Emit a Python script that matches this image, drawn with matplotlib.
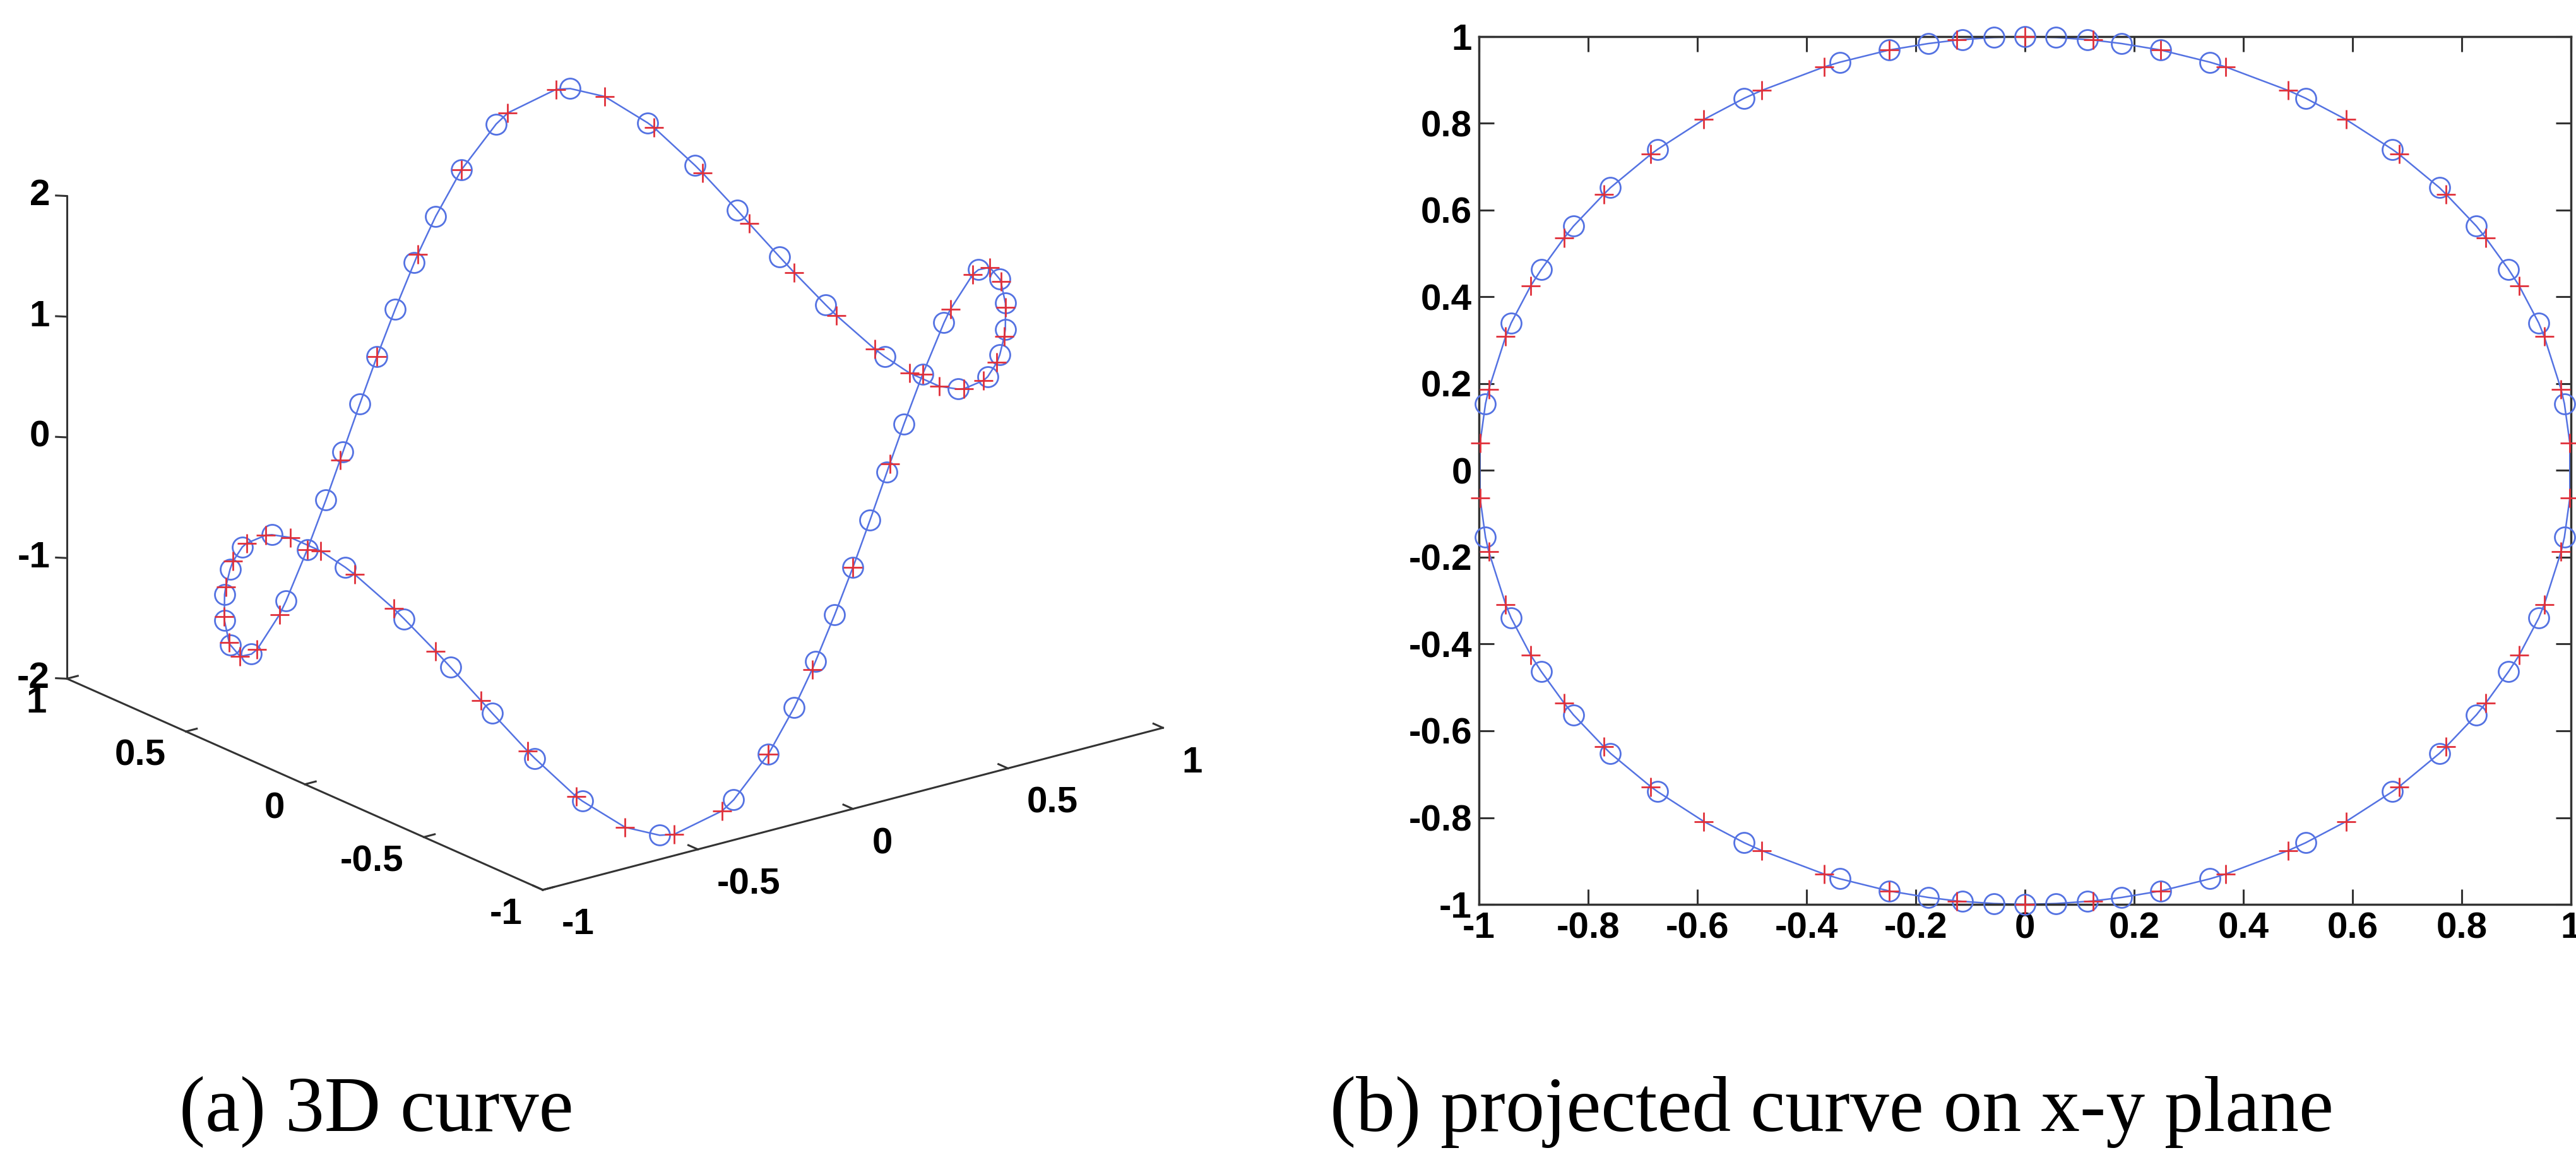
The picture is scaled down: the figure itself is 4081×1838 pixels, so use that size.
import numpy as np
import matplotlib
matplotlib.use("Agg")
import matplotlib.pyplot as plt

# circles: samples spaced evenly along the 3D curve
circ_x = [0.988, 0.941, 0.886, 0.827, 0.759, 0.673, 0.514, 0.339, 0.249, 0.177, 0.115, 0.057, 0.000,
          -0.057, -0.115, -0.177, -0.249, -0.339, -0.514, -0.673, -0.759, -0.827, -0.886, -0.941, -0.988,
          -0.988, -0.941, -0.886, -0.827, -0.759, -0.673, -0.514, -0.339, -0.249, -0.177, -0.115, -0.057, 0.000,
          0.057, 0.115, 0.177, 0.249, 0.339, 0.514, 0.673, 0.759, 0.827, 0.886, 0.941, 0.988]
circ_y = [0.154, 0.340, 0.463, 0.563, 0.652, 0.740, 0.858, 0.941, 0.969, 0.984, 0.993, 0.998, 1.000,
          0.998, 0.993, 0.984, 0.969, 0.941, 0.858, 0.740, 0.652, 0.563, 0.463, 0.340, 0.154,
          -0.154, -0.340, -0.463, -0.563, -0.652, -0.740, -0.858, -0.941, -0.969, -0.984, -0.993, -0.998, -1.000,
          -0.998, -0.993, -0.984, -0.969, -0.941, -0.858, -0.740, -0.652, -0.563, -0.463, -0.340, -0.154]
circ_z = [0.075, 0.371, 0.700, 1.036, 1.376, 1.711, 1.998, 1.749, 1.408, 1.056, 0.706, 0.354, 0.000,
          -0.354, -0.706, -1.056, -1.408, -1.749, -1.998, -1.711, -1.376, -1.036, -0.700, -0.371, -0.075,
          -0.075, -0.371, -0.700, -1.036, -1.376, -1.711, -1.998, -1.749, -1.408, -1.056, -0.706, -0.354, 0.000,
          0.354, 0.706, 1.056, 1.408, 1.749, 1.998, 1.711, 1.376, 1.036, 0.700, 0.371, 0.075]

# pluses: samples spaced evenly in the curve parameter
plus_x = [0.998, 0.982, 0.951, 0.905, 0.844, 0.771, 0.685, 0.588, 0.482, 0.368, 0.249, 0.125, 0.000,
          -0.125, -0.249, -0.368, -0.482, -0.588, -0.685, -0.771, -0.844, -0.905, -0.951, -0.982, -0.998,
          -0.998, -0.982, -0.951, -0.905, -0.844, -0.771, -0.685, -0.588, -0.482, -0.368, -0.249, -0.125, 0.000,
          0.125, 0.249, 0.368, 0.482, 0.588, 0.685, 0.771, 0.844, 0.905, 0.951, 0.982, 0.998]
plus_y = [0.063, 0.187, 0.309, 0.426, 0.536, 0.637, 0.729, 0.809, 0.876, 0.930, 0.969, 0.992, 1.000,
          0.992, 0.969, 0.930, 0.876, 0.809, 0.729, 0.637, 0.536, 0.426, 0.309, 0.187, 0.063,
          -0.063, -0.187, -0.309, -0.426, -0.536, -0.637, -0.729, -0.809, -0.876, -0.930, -0.969, -0.992, -1.000,
          -0.992, -0.969, -0.930, -0.876, -0.809, -0.729, -0.637, -0.536, -0.426, -0.309, -0.187, -0.063]
plus_z = [0.012, 0.111, 0.306, 0.589, 0.940, 1.320, 1.674, 1.925, 1.997, 1.831, 1.408, 0.767, 0.000,
          -0.767, -1.408, -1.831, -1.997, -1.925, -1.674, -1.320, -0.940, -0.589, -0.306, -0.111, -0.012,
          -0.012, -0.111, -0.306, -0.589, -0.940, -1.320, -1.674, -1.925, -1.997, -1.831, -1.408, -0.767, 0.000,
          0.767, 1.408, 1.831, 1.997, 1.925, 1.674, 1.320, 0.940, 0.589, 0.306, 0.111, 0.012]

ticks_xy3 = [-1, -0.5, 0, 0.5, 1]
labels_xy3 = ["-1", "-0.5", "0", "0.5", "1"]
ticks_z3 = [-2, -1, 0, 1, 2]
labels_z3 = ["-2", "-1", "0", "1", "2"]
ticks_2d = [-1, -0.8, -0.6, -0.4, -0.2, 0, 0.2, 0.4, 0.6, 0.8, 1]
labels_2d = ["-1", "-0.8", "-0.6", "-0.4", "-0.2", "0", "0.2", "0.4", "0.6", "0.8", "1"]

captions = ["(a) 3D curve", "(b) projected curve on x-y plane"]

BLUE = "#5472e2"
RED = "#e0303a"
AXC = "#333333"
TICK_FONT = dict(family=["Liberation Sans", "DejaVu Sans"], weight="bold", size=42)

W, H = 4081, 1838
fig = plt.figure(figsize=(W / 100, H / 100), dpi=100)
fig.patch.set_facecolor("white")

# line through all samples in order round the curve
all_x = np.concatenate([circ_x, plus_x])
all_y = np.concatenate([circ_y, plus_y])
all_z = np.concatenate([circ_z, plus_z])
order = np.argsort(np.arctan2(all_y, all_x) % (2 * np.pi))
order = np.append(order, order[0])
line_x, line_y, line_z = all_x[order], all_y[order], all_z[order]

# ---------------- (a) 3D curve ----------------
ax3 = fig.add_axes([0.0, 0.0, 0.45, 1.0], projection="3d", proj_type="ortho",
                   computed_zorder=False)


def _keep_rect(position=None):
    # let the 3D panel stretch like matlab's stretch-to-fill
    if position is None:
        position = ax3.get_position(original=True)
    ax3._set_position(position, which="active")


ax3.apply_aspect = _keep_rect
ax3.patch.set_alpha(0)
ax3.set_xlim(-1, 1)
ax3.set_ylim(-1, 1)
ax3.set_zlim(-2, 2)
ax3.set_box_aspect((1, 1, 0.66))
ax3.view_init(elev=20, azim=-127.5)
ax3.set_axis_off()

ax3.plot(line_x, line_y, line_z, color=BLUE, lw=1.8, zorder=2)
ax3.plot(circ_x, circ_y, circ_z, "o", mfc="none", mec=BLUE, ms=23, mew=2, zorder=3)
ax3.plot(plus_x, plus_y, plus_z, "+", color=RED, ms=22, mew=2, zorder=4)

# axis lines like matlab's box-off 3D view
ax3.plot([-1, 1], [-1, -1], [-2, -2], color=AXC, lw=2.2)
ax3.plot([-1, -1], [-1, 1], [-2, -2], color=AXC, lw=2.2)
ax3.plot([-1, -1], [1, 1], [-2, 2], color=AXC, lw=2.2)
for t in ticks_xy3:
    ax3.plot([t, t], [-1, -0.96], [-2, -2], color=AXC, lw=2.2)
    ax3.plot([-1, -0.965], [t, t], [-2, -2], color=AXC, lw=2.2)
for t in ticks_z3:
    ax3.plot([-1.02, -1], [1.02, 1], [t, t], color=AXC, lw=2.2)

# fit the 3D panel onto points (image pixels)
fig.canvas.draw()


def to_display(ax, p):
    v = ax.M @ np.array([p[0], p[1], p[2], 1.0])
    return ax.transData.transform((v[0] / v[3], v[1] / v[3]))


def axes_frac(ax, p):
    return ax.transAxes.inverted().transform(to_display(ax, p))


ref_pts = [(-1, 1, -2), (-1, -1, -2), (1, -1, -2), (-1, 1, 2),
           (0.514, 0.858, 1.998), (-0.514, -0.858, -1.998)]
ref_pix = [(106, 1066), (860, 1420), (1843, 1140), (106, 307),
           (908, 148), (1040, 1332)]
uv = np.array([axes_frac(ax3, p) for p in ref_pts])
pix = np.array(ref_pix, dtype=float)
ax_fit = np.linalg.lstsq(np.column_stack([uv[:, 0], np.ones(len(uv))]), pix[:, 0], rcond=None)[0]
ay_fit = np.linalg.lstsq(np.column_stack([uv[:, 1], np.ones(len(uv))]), H - pix[:, 1], rcond=None)[0]
Sx, L = ax_fit
Sy, B = ay_fit
ax3.set_position([L / W, B / H, Sx / W, Sy / H])
fig.canvas.draw()

# tick labels of the 3D axes, placed as flat figure texts at projected anchors
for t, lab in zip(ticks_xy3, labels_xy3):
    dx, dy = to_display(ax3, (t, -1.08, -2.22))
    fig.text(dx / W, dy / H, lab, ha="left", va="center", **TICK_FONT)
    dx, dy = to_display(ax3, (-1.065, t, -2.16))
    fig.text(dx / W, dy / H, lab, ha="right", va="center", **TICK_FONT)
for t, lab in zip(ticks_z3, labels_z3):
    dx, dy = to_display(ax3, (-1.034, 1.027, t))
    fig.text(dx / W, dy / H, lab, ha="right", va="center", **TICK_FONT)

# ---------------- (b) projection on x-y ----------------
ax2 = fig.add_axes([2343 / W, 1 - 1433 / H, 1730 / W, 1375 / H])
ax2.plot(line_x, line_y, color=BLUE, lw=1.8, zorder=2)
ax2.plot(circ_x, circ_y, "o", mfc="none", mec=BLUE, ms=23, mew=2, zorder=3, clip_on=False)
ax2.plot(plus_x, plus_y, "+", color=RED, ms=22, mew=2, zorder=4, clip_on=False)
ax2.set_xlim(-1, 1)
ax2.set_ylim(-1, 1)
ax2.set_xticks(ticks_2d)
ax2.set_xticklabels(labels_2d)
ax2.set_yticks(ticks_2d)
ax2.set_yticklabels(labels_2d)
ax2.tick_params(direction="in", length=17, width=2.2, top=True, right=True,
                color=AXC, pad=8)
for lab in ax2.get_xticklabels() + ax2.get_yticklabels():
    lab.set_fontfamily(TICK_FONT["family"])
    lab.set_fontweight("bold")
    lab.set_fontsize(42)
for sp in ax2.spines.values():
    sp.set_linewidth(2.5)
    sp.set_color(AXC)

cap_font = dict(family=["Liberation Serif", "DejaVu Serif"], size=89)
fig.text(596 / W, 1 - 1762 / H, captions[0], ha="center", va="center", **cap_font)
fig.text(2902 / W, 1 - 1762 / H, captions[1], ha="center", va="center", **cap_font)

fig.savefig("out.png", dpi=100, facecolor="white")
